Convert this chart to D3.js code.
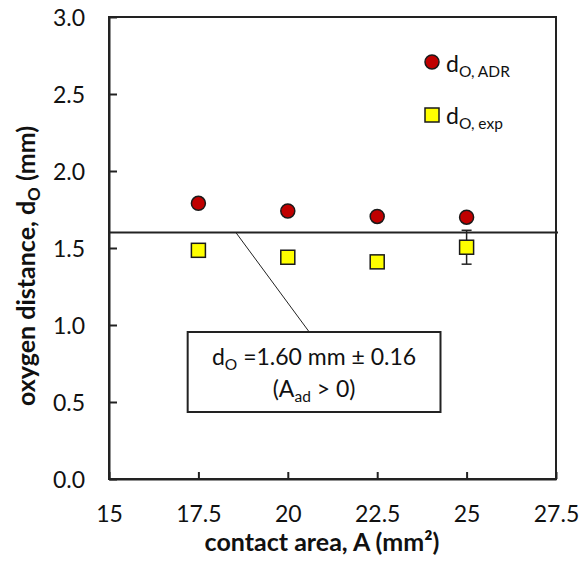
<!DOCTYPE html>
<html>
<head>
<meta charset="utf-8">
<script src="https://cdn.jsdelivr.net/npm/d3@7"></script>
<style>
  html, body { margin: 0; padding: 0; background: #fff; }
  svg { display: block; font-family: "Lato", "Open Sans", sans-serif; }
</style>
</head>
<body>
<svg id="chart" width="580" height="561"></svg>
<script>
// ---- data ----
const contactArea = [17.5, 20, 22.5, 25];
const dADR = [1.79, 1.74, 1.705, 1.70];
const dExp = [1.485, 1.44, 1.41, 1.505];
const dExpErr = [0, 0, 0, 0.11];
const fitValue = 1.60;
const xTicks = [15, 17.5, 20, 22.5, 25, 27.5];
const yTicks = [0, 0.5, 1.0, 1.5, 2.0, 2.5, 3.0];

const svg = d3.select("#chart");
const L = 109, R = 556, T = 17, B = 479;
const x = d3.scaleLinear().domain([15, 27.5]).range([L, R]);
const y = d3.scaleLinear().domain([0, 3]).range([B, T]);
const FS = 23, TFS = 25, SFS = 15.5;

// frame
svg.append("rect").attr("x", L).attr("y", T).attr("width", R - L).attr("height", B - T)
  .attr("fill", "none").attr("stroke", "#222").attr("stroke-width", 2);

// x axis
const xAxis = svg.append("g").attr("transform", `translate(0,${B})`)
  .call(d3.axisBottom(x).tickValues(xTicks).tickSizeInner(-7).tickSizeOuter(0)
    .tickFormat(d => String(d)));
xAxis.select(".domain").attr("stroke", "#222").attr("stroke-width", 2);
xAxis.selectAll(".tick line").attr("stroke", "#222").attr("stroke-width", 2);
xAxis.selectAll(".tick text").attr("y", 43).attr("dy", null)
  .attr("font-size", FS).attr("fill", "#111").attr("font-family", "Lato");

// y axis
const yAxis = svg.append("g").attr("transform", `translate(${L},0)`)
  .call(d3.axisLeft(y).tickValues(yTicks).tickSizeInner(-8).tickSizeOuter(0)
    .tickFormat(d3.format(".1f")));
yAxis.select(".domain").attr("stroke", "#222").attr("stroke-width", 2);
yAxis.selectAll(".tick line").attr("stroke", "#222").attr("stroke-width", 2);
yAxis.selectAll(".tick text").attr("x", -24).attr("dy", "0.36em")
  .attr("font-size", FS).attr("fill", "#111").attr("font-family", "Lato");

// axis titles
svg.append("text").attr("x", 322).attr("y", 551)
  .attr("text-anchor", "middle").attr("font-weight", "bold").attr("font-size", TFS).attr("fill", "#111")
  .text("contact area, A (mm²)");

const yt = svg.append("text").attr("transform", `translate(35,266) rotate(-90)`)
  .attr("text-anchor", "middle").attr("font-weight", "bold").attr("font-size", TFS).attr("fill", "#111");
yt.append("tspan").text("oxygen distance, d");
yt.append("tspan").attr("font-size", 17).attr("dy", 5).text("O");
yt.append("tspan").attr("dy", -5).text(" (mm)");

// fit line
svg.append("line").attr("x1", L).attr("x2", R + 2).attr("y1", y(fitValue)).attr("y2", y(fitValue))
  .attr("stroke", "#222").attr("stroke-width", 2);

// annotation leader + box
const box = { x0: x(17.2), x1: x(24.27), y0: 332, y1: 412 };
svg.append("line").attr("x1", x(18.55)).attr("y1", y(fitValue)).attr("x2", x(20.6)).attr("y2", box.y0)
  .attr("stroke", "#222").attr("stroke-width", 1);
svg.append("rect").attr("x", box.x0).attr("y", box.y0).attr("width", box.x1 - box.x0).attr("height", box.y1 - box.y0)
  .attr("fill", "#fff").attr("stroke", "#222").attr("stroke-width", 2);
const cx = (box.x0 + box.x1) / 2;
const t1 = svg.append("text").attr("x", cx).attr("y", 365).attr("text-anchor", "middle")
  .attr("font-size", FS).attr("fill", "#111");
t1.append("tspan").text("d");
t1.append("tspan").attr("font-size", SFS).attr("dy", 5).text("O");
t1.append("tspan").attr("dy", -5).text(" =1.60 mm ± 0.16");
const t2 = svg.append("text").attr("x", cx).attr("y", 397).attr("text-anchor", "middle")
  .attr("font-size", FS).attr("fill", "#111");
t2.append("tspan").text("(A");
t2.append("tspan").attr("font-size", SFS).attr("dy", 5).text("ad");
t2.append("tspan").attr("dy", -5).text(" > 0)");

// error bars
const eb = svg.append("g").attr("stroke", "#222").attr("stroke-width", 1.5);
contactArea.forEach((a, i) => {
  if (!dExpErr[i]) return;
  const xp = x(a), yTop = y(dExp[i] + dExpErr[i]), yBot = y(dExp[i] - dExpErr[i]);
  eb.append("line").attr("x1", xp).attr("x2", xp).attr("y1", yTop).attr("y2", yBot);
  eb.append("line").attr("x1", xp - 5).attr("x2", xp + 5).attr("y1", yTop).attr("y2", yTop);
  eb.append("line").attr("x1", xp - 5).attr("x2", xp + 5).attr("y1", yBot).attr("y2", yBot);
});

// markers
svg.append("g").selectAll("circle").data(contactArea).join("circle")
  .attr("cx", d => x(d)).attr("cy", (d, i) => y(dADR[i])).attr("r", 7)
  .attr("fill", "#C00000").attr("stroke", "#1a1a1a").attr("stroke-width", 1.5);
svg.append("g").selectAll("rect").data(contactArea).join("rect")
  .attr("x", d => x(d) - 7).attr("y", (d, i) => y(dExp[i]) - 7).attr("width", 14).attr("height", 14)
  .attr("fill", "#FFFF00").attr("stroke", "#1a1a1a").attr("stroke-width", 1.5);

// legend
svg.append("circle").attr("cx", 432).attr("cy", 62).attr("r", 7)
  .attr("fill", "#C00000").attr("stroke", "#1a1a1a").attr("stroke-width", 1.5);
svg.append("rect").attr("x", 425).attr("y", 108).attr("width", 14).attr("height", 14)
  .attr("fill", "#FFFF00").attr("stroke", "#1a1a1a").attr("stroke-width", 1.5);
const l1 = svg.append("text").attr("x", 446).attr("y", 72).attr("font-size", FS).attr("fill", "#111");
l1.append("tspan").text("d");
l1.append("tspan").attr("font-size", SFS).attr("dy", 5).text("O, ADR");
const l2 = svg.append("text").attr("x", 446).attr("y", 124).attr("font-size", FS).attr("fill", "#111");
l2.append("tspan").text("d");
l2.append("tspan").attr("font-size", SFS).attr("dy", 5).text("O, exp");
</script>
</body>
</html>
